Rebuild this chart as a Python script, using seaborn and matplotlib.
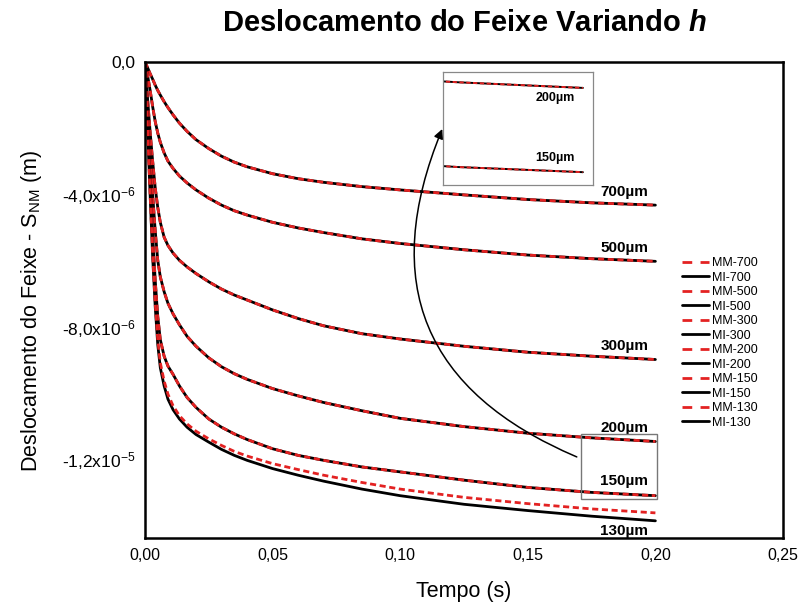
import numpy as np
import pandas as pd
import matplotlib
matplotlib.use("Agg")
import matplotlib.pyplot as plt
from matplotlib.ticker import FixedLocator, FixedFormatter, MultipleLocator
from matplotlib.lines import Line2D
from matplotlib.patches import Rectangle
import seaborn as sns

# Time samples (s)
tempo = [0, 0.0005, 0.001, 0.002, 0.003, 0.004, 0.005, 0.006, 0.0075, 0.009,
         0.011, 0.0135, 0.0165, 0.02, 0.025, 0.03, 0.035, 0.04, 0.05, 0.06,
         0.07, 0.085, 0.1, 0.125, 0.15, 0.175, 0.2]

# Beam displacement S_NM, in micrometres (x1e-6 m)
mi_700 = [0, -0.08, -0.17, -0.35, -0.52, -0.7, -0.86, -1.0, -1.2, -1.38,
          -1.6, -1.85, -2.1, -2.35, -2.62, -2.85, -3.03, -3.17, -3.38, -3.53,
          -3.64, -3.77, -3.87, -4.02, -4.16, -4.26, -4.33]
mi_500 = [0, -0.2, -0.4, -0.85, -1.35, -1.8, -2.15, -2.43, -2.75, -3.0,
          -3.22, -3.45, -3.66, -3.87, -4.12, -4.33, -4.5, -4.63, -4.85, -5.02,
          -5.16, -5.35, -5.49, -5.68, -5.84, -5.95, -6.03]
mi_300 = [0, -0.55, -1.1, -2.1, -3.0, -3.8, -4.4, -4.85, -5.3, -5.55,
          -5.78, -6.0, -6.2, -6.4, -6.65, -6.87, -7.05, -7.2, -7.5, -7.76,
          -7.98, -8.22, -8.38, -8.6, -8.78, -8.9, -9.0]
mi_200 = [0, -0.7, -1.4, -2.8, -4.0, -5.1, -6.0, -6.5, -6.95, -7.3,
          -7.62, -7.95, -8.3, -8.6, -8.95, -9.22, -9.43, -9.6, -9.88, -10.1,
          -10.3, -10.55, -10.78, -11.03, -11.23, -11.37, -11.48]
mi_150 = [0, -0.9, -1.8, -3.6, -5.2, -6.6, -7.7, -8.4, -8.9, -9.2,
          -9.45, -9.8, -10.15, -10.45, -10.8, -11.05, -11.25, -11.42, -11.7, -11.9,
          -12.05, -12.25, -12.4, -12.65, -12.87, -13.02, -13.12]
mi_130 = [0, -1.0, -2.0, -4.0, -5.9, -7.4, -8.55, -9.25, -9.8, -10.2,
          -10.52, -10.8, -11.05, -11.27, -11.5, -11.72, -11.9, -12.05, -12.3, -12.5,
          -12.68, -12.92, -13.12, -13.38, -13.57, -13.74, -13.88]

mm_700 = mi_700
mm_500 = mi_500
mm_300 = mi_300
mm_200 = mi_200
mm_150 = mi_150
mm_130 = [0, -1.0, -2.0, -4.0, -5.8, -7.3, -8.4, -9.1, -9.65, -10.05,
          -10.4, -10.7, -10.95, -11.17, -11.4, -11.6, -11.78, -11.92, -12.15, -12.33,
          -12.5, -12.72, -12.92, -13.17, -13.36, -13.52, -13.64]

espessuras = ["700", "500", "300", "200", "150", "130"]
series_mm = [mm_700, mm_500, mm_300, mm_200, mm_150, mm_130]
series_mi = [mi_700, mi_500, mi_300, mi_200, mi_150, mi_130]
# vertical position (x1e-6 m) of each thickness label
rotulo_y = [-3.94, -5.64, -8.58, -11.06, -12.67, -14.18]

y_ticks = [0, -4e-6, -8e-6, -1.2e-5]
y_ticklabels = ["0,0", r"-4,0x10$^{-6}$", r"-8,0x10$^{-6}$", r"-1,2x10$^{-5}$"]
x_ticks = [0, 0.05, 0.10, 0.15, 0.20, 0.25]
x_ticklabels = ["0,00", "0,05", "0,10", "0,15", "0,20", "0,25"]

rows = []
for h, mm, mi in zip(espessuras, series_mm, series_mi):
    for ti, a, b in zip(tempo, mm, mi):
        rows.append({"t": ti, "S": a * 1e-6, "serie": f"MM-{h}"})
        rows.append({"t": ti, "S": b * 1e-6, "serie": f"MI-{h}"})
df = pd.DataFrame(rows)

sns.set_style("white")
plt.rcParams["font.family"] = ["Liberation Sans", "DejaVu Sans"]
plt.rcParams["mathtext.fontset"] = "custom"
plt.rcParams["mathtext.rm"] = "Liberation Sans"
plt.rcParams["mathtext.it"] = "Liberation Sans:italic"
plt.rcParams["mathtext.bf"] = "Liberation Sans:bold:italic"
for key in ("text.color", "axes.labelcolor", "xtick.color", "ytick.color"):
    plt.rcParams[key] = "black"

RED = "#e32222"
DASH = (2.2, 1.3)

fig = plt.figure(figsize=(7.98, 6.06), dpi=100)
ax = fig.add_axes([0.1817, 0.1122, 0.7995, 0.7855])


def draw(axis, lw=2.0):
    for h in espessuras:
        sub_mi = df[df["serie"] == f"MI-{h}"]
        sub_mm = df[df["serie"] == f"MM-{h}"]
        sns.lineplot(data=sub_mi, x="t", y="S", ax=axis, color="black",
                     linewidth=lw, estimator=None, sort=False)
        sns.lineplot(data=sub_mm, x="t", y="S", ax=axis, color=RED,
                     linewidth=lw, estimator=None, sort=False,
                     linestyle=(0, DASH))


draw(ax)

ax.set_xlim(0, 0.25)
ax.set_ylim(-1.44e-5, 0)
ax.xaxis.set_major_locator(FixedLocator(x_ticks))
ax.xaxis.set_major_formatter(FixedFormatter(x_ticklabels))
ax.xaxis.set_minor_locator(MultipleLocator(0.025))
ax.yaxis.set_major_locator(FixedLocator(y_ticks))
ax.yaxis.set_major_formatter(FixedFormatter(y_ticklabels))
ax.yaxis.set_minor_locator(FixedLocator([-2e-6, -6e-6, -1e-5, -1.4e-5]))
ax.tick_params(axis="both", which="both", direction="in",
               width=1.3, colors="black", pad=7)
ax.tick_params(axis="x", labelsize=11.5)
ax.tick_params(axis="y", labelsize=12.5)
ax.tick_params(which="major", length=7)
ax.tick_params(which="minor", length=4)
for sp in ax.spines.values():
    sp.set_linewidth(1.8)
    sp.set_color("black")

ax.set_xlabel("Tempo (s)", fontsize=15.5, labelpad=13)
ax.set_ylabel(r"Deslocamento do Feixe - S$_{\mathrm{NM}}$ (m)", fontsize=15.5)
ax.yaxis.set_label_coords(-0.158, 0.477)
fig.text(0.5815, 0.962, r"Deslocamento do Feixe Variando $\mathbf{h}$",
         fontsize=21, fontweight="bold", ha="center", va="center")

# Thickness labels next to the curve ends
for h, yv in zip(espessuras, rotulo_y):
    ax.text(0.1878, yv * 1e-6, f"{h}µm", fontsize=11, fontweight="bold",
            ha="center", va="center")

# Zoom window on the main axes
x0, x1, y0, y1 = 0.171, 0.2008, -13.21e-6, -11.24e-6
ax.add_patch(Rectangle((x0, y0), x1 - x0, y1 - y0, fill=False,
                       edgecolor="#777777", linewidth=1.0, zorder=5))

ax.annotate("", xy=(0.1169, -1.95e-6), xytext=(0.1702, -11.98e-6),
            arrowprops=dict(arrowstyle="-|>", color="black", lw=1.1,
                            mutation_scale=14,
                            connectionstyle="arc3,rad=-0.5"))

# Legend
handles = []
labels = []
for h in espessuras:
    handles.append(Line2D([], [], color=RED, lw=2.0, linestyle=(0, (3.5, 3.0))))
    labels.append(f"MM-{h}")
    handles.append(Line2D([], [], color="black", lw=2.0))
    labels.append(f"MI-{h}")
fig.legend(handles, labels, loc="upper left", bbox_to_anchor=(0.848, 0.584),
           frameon=False, fontsize=9, handlelength=2.15, handletextpad=0.3,
           labelspacing=0.2, borderaxespad=0)

# Inset
ins = fig.add_axes([0.555, 0.6947, 0.188, 0.1865])
draw(ins, lw=1.4)
ins.set_xlim(0.172, 0.202)
ins.set_ylim(-13.37e-6, -11.17e-6)
ins.set_xlabel("")
ins.set_ylabel("")
ins.set_xticks([0.175, 0.18, 0.185, 0.19, 0.195, 0.2])
ins.set_yticks([-11.5e-6, -11.9e-6, -12.3e-6, -12.7e-6, -13.1e-6])
ins.tick_params(direction="in", length=2.5, width=0.6, colors="#888888",
                labelbottom=False, labelleft=False)
for sp in ins.spines.values():
    sp.set_linewidth(0.9)
    sp.set_color("#888888")
ins.text(0.1944, -11.68e-6, "200µm", fontsize=9, fontweight="bold",
         ha="center", va="center")
ins.text(0.1944, -12.84e-6, "150µm", fontsize=9, fontweight="bold",
         ha="center", va="center")

fig.savefig("out.png", dpi=100)
